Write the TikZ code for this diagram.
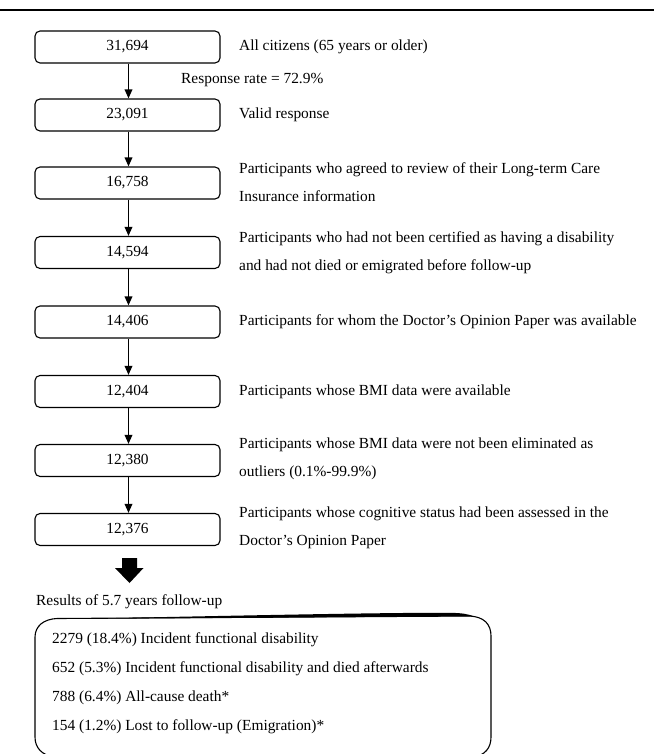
\documentclass[tikz,border=0pt]{standalone}
\usepackage{fontspec}
\setmainfont{Liberation Serif}
\usetikzlibrary{arrows.meta}
\begin{document}
\begin{tikzpicture}[x=1pt,y=-1pt,
  every node/.style={font=\fontsize{15.4}{28}\selectfont, inner sep=0pt},
  numbox/.style={draw, rounded corners=5pt, minimum width=185pt, minimum height=32pt, line width=1.1pt},
  lbl/.style={anchor=west, align=left},
  flow/.style={line width=1.7pt, -{Triangle[length=9pt,width=7.5pt]}}]
\useasboundingbox (0,0) rectangle (654,754);
% top rule
\draw[line width=2pt] (0,10) -- (654,10);
% boxes
\node[numbox] (b1) at (127.5,47) {31,694};
\node[numbox] (b2) at (127.5,115) {23,091};
\node[numbox] (b3) at (127.5,183) {16,758};
\node[numbox] (b4) at (127.5,252.5) {14,594};
\node[numbox] (b5) at (127.5,322) {14,406};
\node[numbox] (b6) at (127.5,391.5) {12,404};
\node[numbox] (b7) at (127.5,460.5) {12,380};
\node[numbox] (b8) at (127.5,529.5) {12,376};
% labels
\node[lbl] (t1) at (239,47) {All citizens (65 years or older)};
\node[lbl] (rr) at (181,80) {Response rate = 72.9\%};
\node[lbl] (t2) at (239,115) {Valid response};
\node[lbl] (t3) at (239,182) {Participants who agreed to review of their Long-term Care\\Insurance information};
\node[lbl] (t4) at (239,253) {Participants who had not been certified as having a disability\\and had not died or emigrated before follow-up};
\node[lbl] (t5) at (239,322) {Participants for whom the Doctor’s Opinion Paper was available};
\node[lbl] (t6) at (239,391.5) {Participants whose BMI data were available};
\node[lbl] (t7) at (239,459) {Participants whose BMI data were not been eliminated as\\outliers (0.1\%-99.9\%)};
\node[lbl] (t8) at (239,528) {Participants whose cognitive status had been assessed in the\\Doctor’s Opinion Paper};
% arrows
\foreach \a/\b in {b1/b2,b2/b3,b3/b4,b4/b5,b5/b6,b6/b7,b7/b8}
  \draw[flow] ([xshift=1pt]\a.south) -- ([xshift=1pt]\b.north);
% big arrow
\fill (122,558) -- (137,558) -- (137,568) -- (143.5,568) -- (129.5,583) -- (115,568) -- (122,568) -- cycle;
\node[lbl] (res) at (36,602) {Results of 5.7 years follow-up};
% results box
\draw[line width=1.1pt] (35,700) -- (35,637) .. controls (35,626) and (44,619) .. (57,618.5)
  -- (470,616) .. controls (484,617) and (491,624) .. (491,636) -- (491,737)
  .. controls (491,748) and (485,755) .. (474,757) -- (54,757)
  .. controls (42,755) and (35,748) .. (35,737) -- cycle;
\fill (90,618.5) .. controls (220,616) and (380,612.5) .. (450,612.8)
  .. controls (462,613) and (468,614) .. (474,616.4) -- (470,616.3) -- (90,618.8) -- cycle;
\node[lbl] (r1) at (52,640) {2279 (18.4\%) Incident functional disability};
\node[lbl] (r2) at (52,669) {652 (5.3\%) Incident functional disability and died afterwards};
\node[lbl] (r3) at (52,698) {788 (6.4\%) All-cause death*};
\node[lbl] (r4) at (52,727) {154 (1.2\%) Lost to follow-up (Emigration)*};
\end{tikzpicture}
\end{document}
